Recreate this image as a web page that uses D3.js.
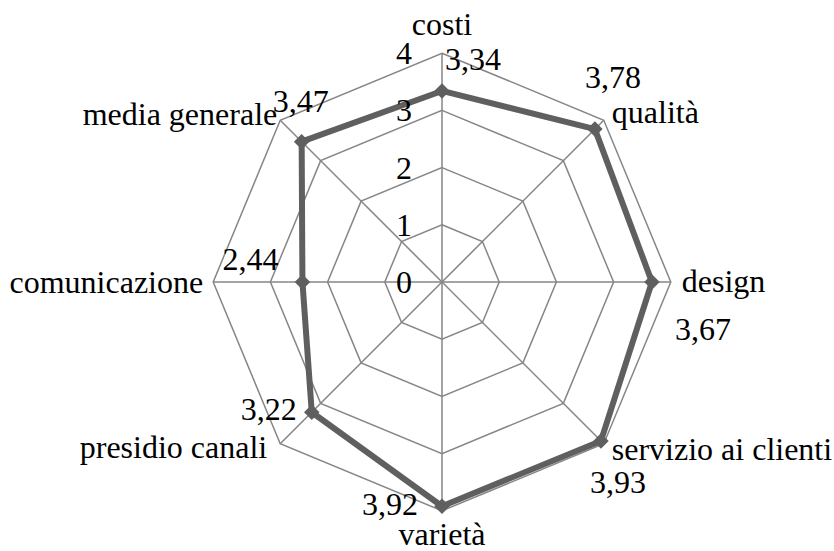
<!DOCTYPE html>
<html>
<head>
<meta charset="utf-8">
<script src="https://cdn.jsdelivr.net/npm/d3@7"></script>
<style>
html,body{margin:0;padding:0;background:#fff;}
svg{display:block;}
text{font-family:"Liberation Serif","Times New Roman",serif;fill:#000;}
</style>
</head>
<body>
<svg id="chart" width="834" height="551"></svg>
<script>
// ---- data ----
const categories = ["costi","qualità","design","servizio ai clienti","varietà","presidio canali","comunicazione","media generale"];
const values = [3.34, 3.78, 3.67, 3.93, 3.92, 3.22, 2.44, 3.47];
const valueLabels = ["3,34","3,78","3,67","3,93","3,92","3,22","2,44","3,47"];
const tickValues = [0, 1, 2, 3, 4];
const tickLabels = ["0","1","2","3","4"];

// ---- layout ----
const W = 834, H = 551;
const cx = 442, cy = 282, R = 228.8;
const fontSize = 32;
// category label placement relative to outer vertex
const catPlace = [
  {dx:0, dy:-18, a:"middle"},
  {dx:8, dy:3, a:"start"},
  {dx:11, dy:10, a:"start"},
  {dx:8, dy:16, a:"start"},
  {dx:0, dy:34, a:"middle"},
  {dx:-13, dy:14, a:"end"},
  {dx:-10, dy:11, a:"end"},
  {dx:-3, dy:5, a:"end"}
];
// value label placement relative to data point
const valPlace = [
  {dx:3, dy:-21, a:"start"},
  {dx:-10, dy:-41, a:"start"},
  {dx:23, dy:58, a:"start"},
  {dx:-11, dy:52, a:"start"},
  {dx:-24, dy:9, a:"end"},
  {dx:-15, dy:8, a:"end"},
  {dx:-24, dy:-12, a:"end"},
  {dx:-29, dy:-30, a:"start"}
];

const svg = d3.select("#chart");
const g = svg.append("g").attr("transform", `translate(${cx},${cy})`);

const r = d3.scaleLinear().domain([0, 4]).range([0, R]);
const angle = d3.scaleLinear().domain([0, categories.length]).range([0, 2 * Math.PI]);
const px = (i, v) => r(v) * Math.sin(angle(i));
const py = (i, v) => -r(v) * Math.cos(angle(i));

const gridColor = "#868686";
const idx = d3.range(categories.length);

// grid rings (octagons)
const ringLine = d3.line();
tickValues.filter(t => t > 0).forEach(t => {
  g.append("path")
    .attr("d", ringLine(idx.map(i => [px(i, t), py(i, t)])) + "Z")
    .attr("fill", "none").attr("stroke", gridColor).attr("stroke-width", 1.5);
});
// spokes
idx.forEach(i => {
  g.append("line")
    .attr("x1", 0).attr("y1", 0)
    .attr("x2", px(i, 4)).attr("y2", py(i, 4))
    .attr("stroke", gridColor).attr("stroke-width", 1.5);
});

// data line
const dataLine = d3.line();
g.append("path")
  .attr("d", dataLine(idx.map(i => [px(i, values[i]), py(i, values[i])])) + "Z")
  .attr("fill", "none").attr("stroke", "#5f5f5f").attr("stroke-width", 6)
  .attr("stroke-linejoin", "round");

// markers (diamonds)
const diamond = d3.symbol().type(d3.symbolSquare).size(120);
idx.forEach(i => {
  g.append("path")
    .attr("d", diamond())
    .attr("transform", `translate(${px(i, values[i])},${py(i, values[i])}) rotate(45)`)
    .attr("fill", "#5f5f5f");
});

// tick labels
tickValues.forEach((t, k) => {
  g.append("text")
    .attr("x", -30).attr("y", -r(t) + 11)
    .attr("text-anchor", "end")
    .attr("font-size", fontSize)
    .text(tickLabels[k]);
});

// category labels
idx.forEach(i => {
  const p = catPlace[i];
  g.append("text")
    .attr("x", px(i, 4) + p.dx).attr("y", py(i, 4) + p.dy)
    .attr("text-anchor", p.a)
    .attr("font-size", fontSize)
    .text(categories[i]);
});

// value labels
idx.forEach(i => {
  const p = valPlace[i];
  g.append("text")
    .attr("x", px(i, values[i]) + p.dx).attr("y", py(i, values[i]) + p.dy)
    .attr("text-anchor", p.a)
    .attr("font-size", fontSize)
    .text(valueLabels[i]);
});
</script>
</body>
</html>
